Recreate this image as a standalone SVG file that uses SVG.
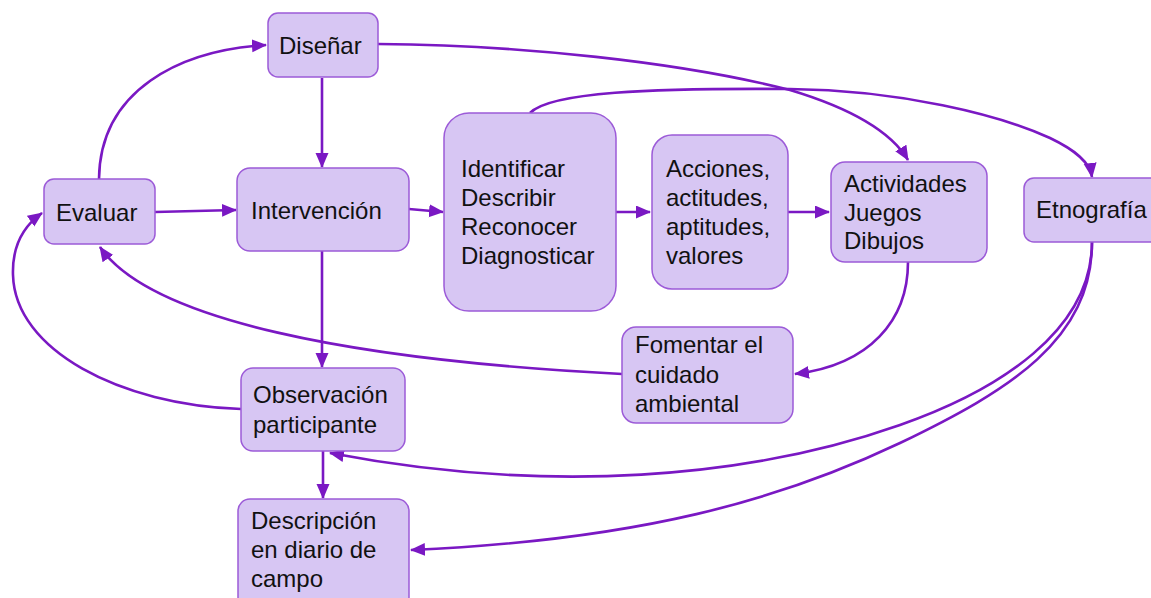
<svg xmlns="http://www.w3.org/2000/svg" width="1151" height="598" viewBox="0 0 1151 598">
<style>
.box{fill:#d7c6f3;stroke:#9c5bd8;stroke-width:1.5}
.t{font-family:"Liberation Sans",Arial,sans-serif;font-size:24px;fill:#111}
.c{fill:none;stroke:#7a18c3;stroke-width:2.6;marker-end:url(#ah)}
.n{fill:none;stroke:#7a18c3;stroke-width:2.6}
</style>
<defs>
<marker id="ah" markerUnits="userSpaceOnUse" markerWidth="16" markerHeight="14" refX="14" refY="6.5" orient="auto">
<path d="M0,0 L15,6.5 L0,13 z" fill="#7a18c3"/>
</marker>
</defs>
<rect width="1151" height="598" fill="#fff"/>
<g id="connectors">
<path class="c" d="M99,179 C100,90 180,50 266,45"/>
<path class="c" d="M322,78 L322,167"/>
<path class="c" d="M155,212 L236,210"/>
<path class="c" d="M409,209 L443,212"/>
<path class="c" d="M616,212 L650,212"/>
<path class="c" d="M788,212 L829,212"/>
<path class="c" d="M322,251 L322,367"/>
<path class="c" d="M323,451 L323,498"/>
<path class="c" d="M378,44 C520,45 680,62 790,90 C850,108 890,130 908,160"/>
<path class="c" d="M530,113 C550,92 650,88 790,89 C900,90 1000,115 1050,138 C1075,150 1090,162 1092,177"/>
<path class="c" d="M908,262 C908,320 870,365 795,374"/>
<path class="c" d="M622,374 C350,360 150,320 100,247"/>
<path class="c" d="M241,409 C120,405 15,350 13,275 C12,245 25,225 42,213"/>
<path class="c" d="M1092,242 C1092,330 1000,390 900,425 C750,478 550,495 330,453"/>
<path class="c" d="M1092,242 C1092,340 1010,390 900,443 C780,500 640,540 411,550"/>
</g>
<g id="disenar"><rect class="box" x="268" y="13" width="110" height="64" rx="10"/><text class="t" x="279" y="54">Diseñar</text></g>
<g id="evaluar"><rect class="box" x="44" y="179" width="111" height="65" rx="10"/><text class="t" x="56" y="221">Evaluar</text></g>
<g id="intervencion"><rect class="box" x="237" y="168" width="172" height="83" rx="13"/><text class="t" x="251" y="219">Intervención</text></g>
<g id="identificar"><rect class="box" x="444" y="113" width="172" height="198" rx="25"/><text class="t" x="461"><tspan x="461" y="177">Identificar</tspan><tspan x="461" y="206">Describir</tspan><tspan x="461" y="235">Reconocer</tspan><tspan x="461" y="264">Diagnosticar</tspan></text></g>
<g id="acciones"><rect class="box" x="652" y="135" width="136" height="154" rx="20"/><text class="t"><tspan x="666" y="177">Acciones,</tspan><tspan x="666" y="206">actitudes,</tspan><tspan x="666" y="235">aptitudes,</tspan><tspan x="666" y="264">valores</tspan></text></g>
<g id="actividades"><rect class="box" x="831" y="162" width="156" height="100" rx="14"/><text class="t"><tspan x="844" y="192">Actividades</tspan><tspan x="844" y="221">Juegos</tspan><tspan x="844" y="249">Dibujos</tspan></text></g>
<g id="etnografia"><rect class="box" x="1024" y="178" width="140" height="64" rx="10"/><text class="t" x="1036" y="218">Etnografía</text></g>
<g id="fomentar"><rect class="box" x="622" y="327" width="171" height="96" rx="14"/><text class="t"><tspan x="635" y="353">Fomentar el</tspan><tspan x="635" y="383">cuidado</tspan><tspan x="635" y="412">ambiental</tspan></text></g>
<g id="observacion"><rect class="box" x="241" y="368" width="164" height="83" rx="12"/><text class="t"><tspan x="253" y="403">Observación</tspan><tspan x="253" y="433">participante</tspan></text></g>
<g id="descripcion"><rect class="box" x="238" y="499" width="171" height="110" rx="12"/><text class="t"><tspan x="251" y="529">Descripción</tspan><tspan x="251" y="558">en diario de</tspan><tspan x="251" y="587">campo</tspan></text></g>
</svg>
